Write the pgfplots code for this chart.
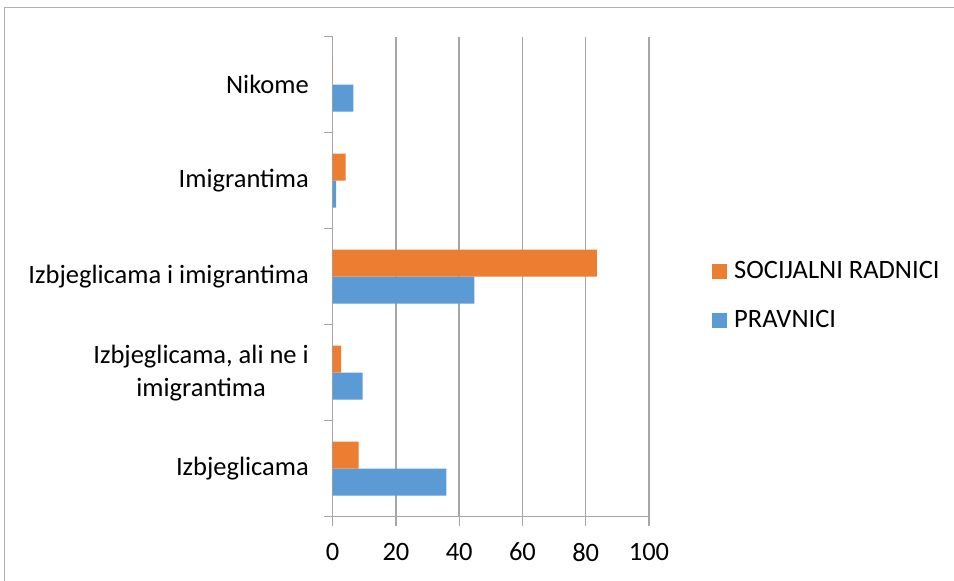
\documentclass[border=0pt]{standalone}
\usepackage{pgfplots}
\pgfplotsset{compat=1.18}
\usepackage{fontspec}
\setmainfont{Carlito}
\definecolor{cblue}{RGB}{91,155,213}
\definecolor{corange}{RGB}{237,125,49}
\definecolor{gridgray}{RGB}{166,166,166}
\definecolor{framegray}{RGB}{175,175,175}
\begin{document}
\begin{tikzpicture}[x=1pt,y=1pt]
\path[use as bounding box] (0,0) rectangle (954,581);
\draw[framegray, line width=1pt] (4,-2) -- (4,573) -- (958,573);
\begin{axis}[
  at={(332.7pt,64.3pt)}, anchor=south west,
  scale only axis, width=316.3pt, height=480pt,
  font=\fontsize{26.5}{33}\selectfont,
  xmin=0, xmax=100, xtick={0,20,...,100},
  ymin=-0.5, ymax=4.5,
  ytick={0,1,2,3,4},
  yticklabels={Izbjeglicama, {Izbjeglicama, ali ne i\\imigrantima}, Izbjeglicama i imigrantima, Imigrantima, Nikome},
  minor ytick={-0.5,0.5,...,4.5},
  major y tick style={draw=none},
  tick align=outside,
  major tick length=9pt, minor tick length=9pt,
  tick style={gridgray, line width=1.2pt},
  axis x line*=bottom, axis y line*=left,
  axis line style={gridgray, line width=1.2pt},
  xmajorgrids, major grid style={gridgray, line width=1.5pt},
  yticklabel style={align=center, inner sep=0pt, xshift=-14.7pt},
  xticklabel style={inner sep=0pt, yshift=-17pt},
  /pgf/number format/assume math mode=true,
  reverse legend,
  legend style={at={(379.3pt,220.2pt)}, anchor=west, draw=none, fill=none, inner sep=0pt,
    row sep=24pt, column sep=7pt,
    nodes={inner sep=0pt, text height=19pt, text depth=6pt},
    font=\fontsize{26.5}{33}\selectfont},
  legend cell align=left,
  legend image code/.code={\fill[#1] (0pt,-7.5pt) rectangle (15pt,7.5pt);},
]
\addplot[xbar, bar width=27pt, bar shift=-13.5pt, fill=cblue, draw=none]
  coordinates {(35.9,0) (9.5,1) (44.8,2) (1.1,3) (6.5,4)};
\addlegendentry{PRAVNICI}
\addplot[xbar, bar width=27pt, bar shift=13.5pt, fill=corange, draw=none]
  coordinates {(8.2,0) (2.7,1) (83.5,2) (4.1,3) (0,4)};
\addlegendentry{SOCIJALNI RADNICI}
\end{axis}
\end{tikzpicture}
\end{document}
